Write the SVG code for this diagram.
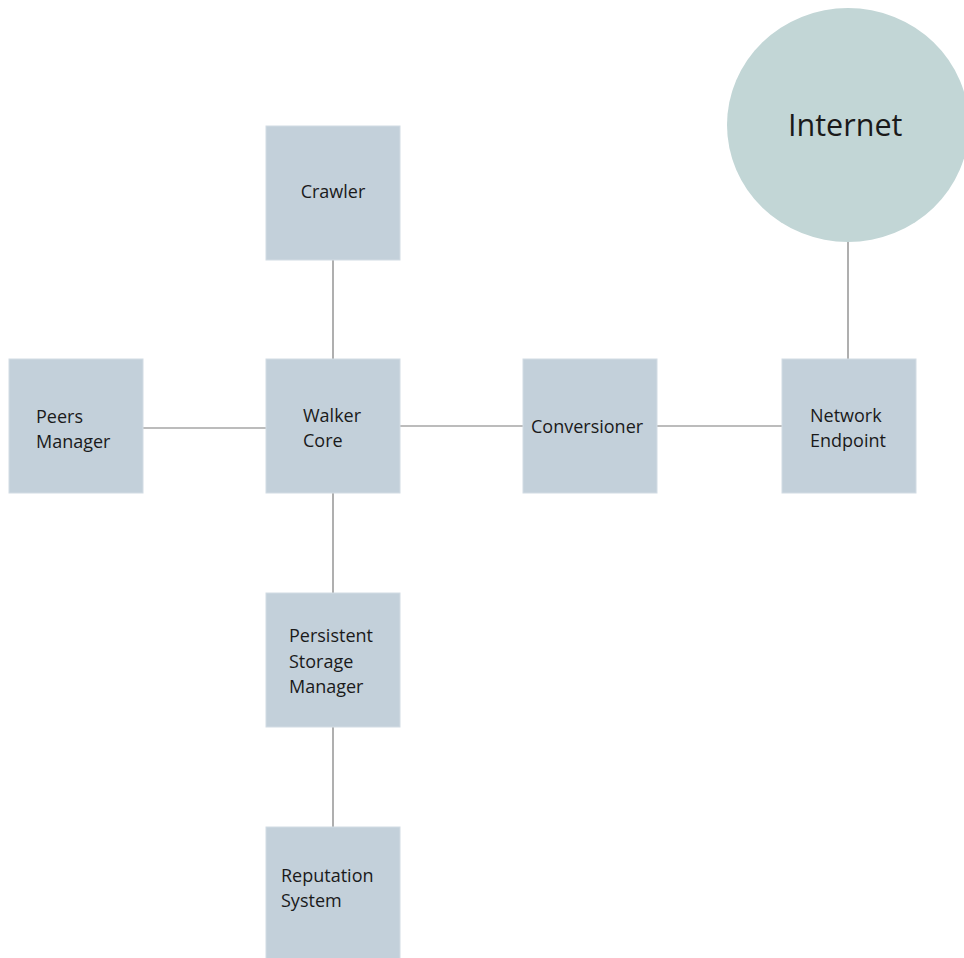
<svg xmlns="http://www.w3.org/2000/svg" width="964" height="958" viewBox="0 0 964 958">
<style>
.box{fill:#c3d0da;stroke:#d2dce4;stroke-width:1}
.lbl{font-family:"Open Sans","Noto Sans","Liberation Sans",sans-serif;font-size:18px;fill:#1a1a1a}
.con{stroke:#7a7a7a;stroke-width:1.2;fill:none}
</style>
<rect width="964" height="958" fill="#ffffff"/>
<g id="connectors">
<line class="con" x1="333" y1="260" x2="333" y2="359"/>
<line class="con" x1="143" y1="428" x2="266" y2="428"/>
<line class="con" x1="400" y1="426" x2="523" y2="426"/>
<line class="con" x1="657" y1="426" x2="782" y2="426"/>
<line class="con" x1="333" y1="493" x2="333" y2="593"/>
<line class="con" x1="333" y1="727" x2="333" y2="827"/>
<line class="con" x1="848" y1="242" x2="848" y2="359"/>
</g>
<g id="internet">
<ellipse cx="848" cy="125" rx="121" ry="117" fill="#c2d6d6"/>
<text x="788" y="136" font-family="'Open Sans','Noto Sans','Liberation Sans',sans-serif" font-size="30.5" fill="#1a1a1a">Internet</text>
</g>
<g id="crawler">
<rect class="box" x="266" y="126" width="134" height="134"/>
<text class="lbl" x="333" y="198" text-anchor="middle">Crawler</text>
</g>
<g id="peers-manager">
<rect class="box" x="9" y="359" width="134" height="134"/>
<text class="lbl" x="36" y="423">Peers</text>
<text class="lbl" x="36" y="448">Manager</text>
</g>
<g id="walker-core">
<rect class="box" x="266" y="359" width="134" height="134"/>
<text class="lbl" x="303" y="422">Walker</text>
<text class="lbl" x="303" y="447">Core</text>
</g>
<g id="conversioner">
<rect class="box" x="523" y="359" width="134" height="134"/>
<text class="lbl" x="531" y="433">Conversioner</text>
</g>
<g id="network-endpoint">
<rect class="box" x="782" y="359" width="134" height="134"/>
<text class="lbl" x="810" y="422">Network</text>
<text class="lbl" x="810" y="447">Endpoint</text>
</g>
<g id="persistent-storage-manager">
<rect class="box" x="266" y="593" width="134" height="134"/>
<text class="lbl" x="289" y="642">Persistent</text>
<text class="lbl" x="289" y="668">Storage</text>
<text class="lbl" x="289" y="693">Manager</text>
</g>
<g id="reputation-system">
<rect class="box" x="266" y="827" width="134" height="134"/>
<text class="lbl" x="281" y="882">Reputation</text>
<text class="lbl" x="281" y="907">System</text>
</g>
</svg>
